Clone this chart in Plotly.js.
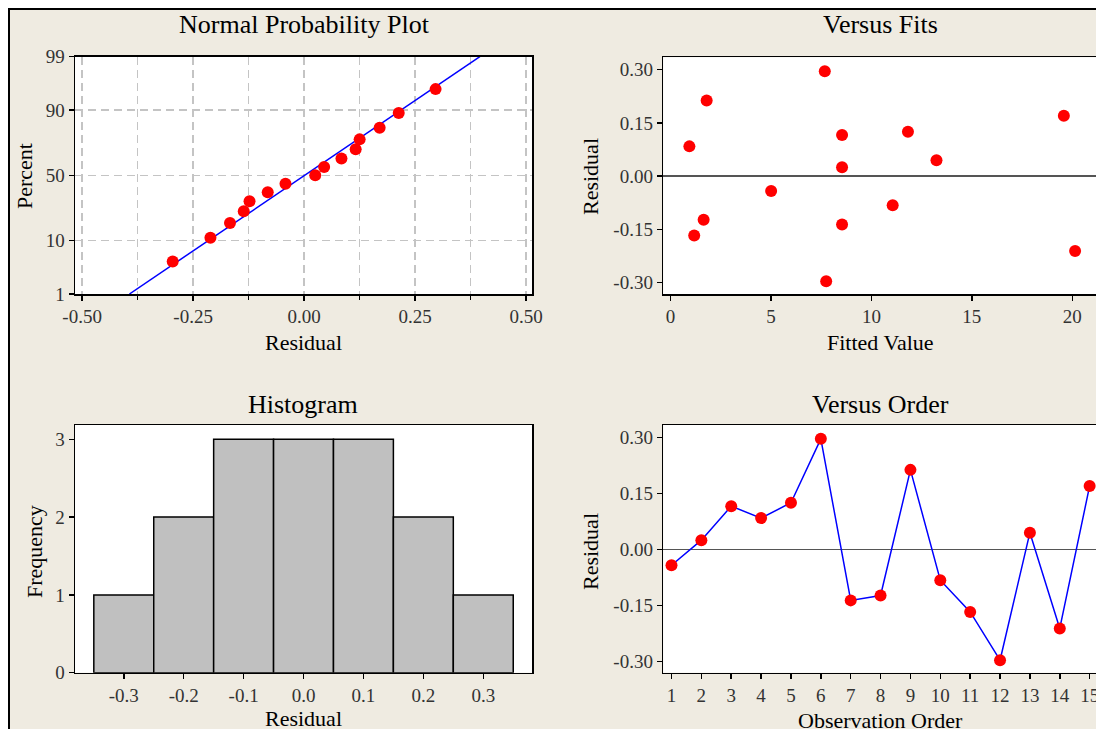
<!DOCTYPE html>
<html><head><meta charset="utf-8">
<script src="https://cdn.plot.ly/plotly-3.0.1.min.js"></script>
<style>
html,body{margin:0;padding:0;background:#fff;overflow:hidden;width:1096px;height:729px;}
#wrap{position:absolute;left:8px;top:8px;border-left:2px solid #000;border-top:2px solid #000;}
#chart{width:1150px;height:780px;}
</style></head><body><div id="wrap"><div id="chart"></div></div>
<script>
// ---- data ----
const observationOrder = [1,2,3,4,5,6,7,8,9,10,11,12,13,14,15];
const residuals = [-0.042,0.025,0.116,0.084,0.125,0.296,-0.136,-0.123,0.213,-0.082,-0.167,-0.296,0.045,-0.211,0.170];
const fittedValues = [5.01,8.54,8.54,0.94,11.82,7.68,8.54,1.65,1.80,11.06,1.18,7.75,13.24,20.14,19.58];
const percentTicks = [1,10,50,90,99];
const percentTickText = ['1','10','50','90','99'];
const nppXTicks = [-0.5,-0.25,0,0.25,0.5];
const nppXTickText = ['-0.50','-0.25','0.00','0.25','0.50'];
const nppXMinor = [-0.375,-0.125,0.125,0.375];
const residTicks = [-0.30,-0.15,0,0.15,0.30];
const residTickText = ['-0.30','-0.15','0.00','0.15','0.30'];
const fitTicks = [0,5,10,15,20];
const histTicks = [-0.3,-0.2,-0.1,0,0.1,0.2,0.3];
const histTickText = ['-0.3','-0.2','-0.1','0.0','0.1','0.2','0.3'];
const freqTicks = [0,1,2,3];

// ---- helpers ----
function normInv(p){
 const a=[-3.969683028665376e+01,2.209460984245205e+02,-2.759285104469687e+02,1.383577518672690e+02,-3.066479806614716e+01,2.506628277459239e+00];
 const b=[-5.447609879822406e+01,1.615858368580409e+02,-1.556989798598866e+02,6.680131188771972e+01,-1.328068155288572e+01];
 const c=[-7.784894002430293e-03,-3.223964580411365e-01,-2.400758277161838e+00,-2.549671010229528e+00,4.374664141464968e+00,2.938163982698783e+00];
 const d=[7.784695709041462e-03,3.224671290700398e-01,2.445134137142996e+00,3.754408661907416e+00];
 const pl=0.02425, ph=1-pl; let q,r;
 if(p<pl){q=Math.sqrt(-2*Math.log(p));return (((((c[0]*q+c[1])*q+c[2])*q+c[3])*q+c[4])*q+c[5])/((((d[0]*q+d[1])*q+d[2])*q+d[3])*q+1);}
 if(p>ph){q=Math.sqrt(-2*Math.log(1-p));return -(((((c[0]*q+c[1])*q+c[2])*q+c[3])*q+c[4])*q+c[5])/((((d[0]*q+d[1])*q+d[2])*q+d[3])*q+1);}
 q=p-0.5;r=q*q;return (((((a[0]*r+a[1])*r+a[2])*r+a[3])*r+a[4])*r+a[5])*q/(((((b[0]*r+b[1])*r+b[2])*r+b[3])*r+b[4])*r+1);
}
const W=1150, H=780, OX=10, OY=10;
const px = x => (x-OX)/W;
const py = y => 1-(y-OY)/H;
const xd = (l,r) => [px(l), px(r)];
const yd = (t,b) => [py(b), py(t)];

// normal probability plot computations
const n = residuals.length;
const sorted = residuals.slice().sort((u,v)=>u-v);
const zScores = sorted.map((v,i)=>normInv((i+1-0.3)/(n+0.4)));
const mean = residuals.reduce((s,v)=>s+v,0)/n;
const sd = Math.sqrt(residuals.reduce((s,v)=>s+(v-mean)*(v-mean),0)/(n-1));
const zLo = normInv(percentTicks[0]/100), zHi = normInv(percentTicks[percentTicks.length-1]/100);

const F = 'Liberation Serif, Times New Roman, serif';
const RED = '#FF0000', BLUE = '#0000FF';

const traces = [
 {type:'scatter', mode:'lines', x:[mean+zLo*sd, mean+zHi*sd], y:[zLo,zHi], xaxis:'x', yaxis:'y', line:{color:BLUE,width:1.5}, hoverinfo:'skip'},
 {type:'scatter', mode:'markers', x:sorted, y:zScores, xaxis:'x', yaxis:'y', marker:{color:RED,size:12}},
 {type:'scatter', mode:'markers', x:fittedValues, y:residuals, xaxis:'x2', yaxis:'y2', marker:{color:RED,size:12}},
 {type:'histogram', x:residuals, xaxis:'x3', yaxis:'y3', autobinx:false, xbins:{start:-0.35,end:0.35,size:0.1},
  marker:{color:'#C0C0C0', line:{color:'#000',width:1.5}}},
 {type:'scatter', mode:'lines+markers', x:observationOrder, y:residuals, xaxis:'x4', yaxis:'y4', line:{color:BLUE,width:1.5}, marker:{color:RED,size:12}}
];

const base = {showline:true, mirror:true, linecolor:'#000', linewidth:1.5, ticks:'outside', ticklen:5, tickwidth:1.5, tickcolor:'#000',
  showgrid:false, zeroline:false, tickfont:{family:F,size:19,color:'#333'}, fixedrange:true, layer:'above traces'};
const gridStyle = {showgrid:true, gridcolor:'#C4C4C4', gridwidth:1.5, griddash:'8px,5px'};

const layout = {
 width:W, height:H, margin:{l:0,r:0,t:0,b:0}, paper_bgcolor:'#EFEBE1', plot_bgcolor:'#FFFFFF', showlegend:false, bargap:0,
 font:{family:F,color:'#000'},
 xaxis:Object.assign({}, base, gridStyle, {domain:xd(75,532.4), anchor:'y', range:[-0.516,0.514], tickmode:'array', tickvals:nppXTicks, ticktext:nppXTickText,
   minor:{tickmode:'array', tickvals:nppXMinor, ticks:'outside', ticklen:4, tickcolor:'#000', showgrid:true, gridcolor:'#C4C4C4', gridwidth:1.5, griddash:'8px,5px'}}),
 yaxis:Object.assign({}, base, gridStyle, {domain:yd(56.7,294), anchor:'x', range:[zLo,zHi], tickmode:'array', tickvals:percentTicks.map(p=>normInv(p/100)), ticktext:percentTickText}),
 xaxis2:Object.assign({}, base, {domain:xd(663.2,1098), anchor:'y2', range:[-0.363,21.28], tickmode:'array', tickvals:fitTicks}),
 yaxis2:Object.assign({}, base, {domain:yd(57.3,294), anchor:'x2', range:[-0.332,0.335], tickmode:'array', tickvals:residTicks, ticktext:residTickText,
   zeroline:true, zerolinecolor:'#555', zerolinewidth:1.5}),
 xaxis3:Object.assign({}, base, {domain:xd(75,532.4), anchor:'y3', range:[-0.3814,0.382], tickmode:'array', tickvals:histTicks, ticktext:histTickText}),
 yaxis3:Object.assign({}, base, {domain:yd(425,672.7), anchor:'x3', range:[0,3.184], tickmode:'array', tickvals:freqTicks}),
 xaxis4:Object.assign({}, base, {domain:xd(663.2,1098), anchor:'y4', range:[0.722,15.28], tickmode:'array', tickvals:observationOrder}),
 yaxis4:Object.assign({}, base, {domain:yd(425,672.7), anchor:'x4', range:[-0.3294,0.333], tickmode:'array', tickvals:residTicks, ticktext:residTickText,
   zeroline:true, zerolinecolor:'#555', zerolinewidth:1.5}),
 annotations:[
  {text:'Normal Probability Plot', x:px(304), y:py(24), font:{size:26}},
  {text:'Versus Fits', x:px(880), y:py(24), font:{size:26}},
  {text:'Histogram', x:px(303), y:py(404), font:{size:26}},
  {text:'Versus Order', x:px(880), y:py(404), font:{size:26}},
  {text:'Residual', x:px(303), y:py(342), font:{size:22}},
  {text:'Fitted Value', x:px(880), y:py(342), font:{size:22}},
  {text:'Residual', x:px(303), y:py(718), font:{size:22}},
  {text:'Observation Order', x:px(880), y:py(720), font:{size:22}},
  {text:'Percent', x:px(24), y:py(176), font:{size:22}, textangle:-90},
  {text:'Residual', x:px(590), y:py(177), font:{size:22}, textangle:-90},
  {text:'Frequency', x:px(34), y:py(552), font:{size:22}, textangle:-90},
  {text:'Residual', x:px(590), y:py(552), font:{size:22}, textangle:-90}
 ].map(a=>Object.assign({xref:'paper', yref:'paper', showarrow:false, xanchor:'center', yanchor:'middle'}, a, {font:Object.assign({family:F,color:'#000'}, a.font)}))
};

Plotly.newPlot('chart', traces, layout, {displayModeBar:false, staticPlot:true});
</script></body></html>
